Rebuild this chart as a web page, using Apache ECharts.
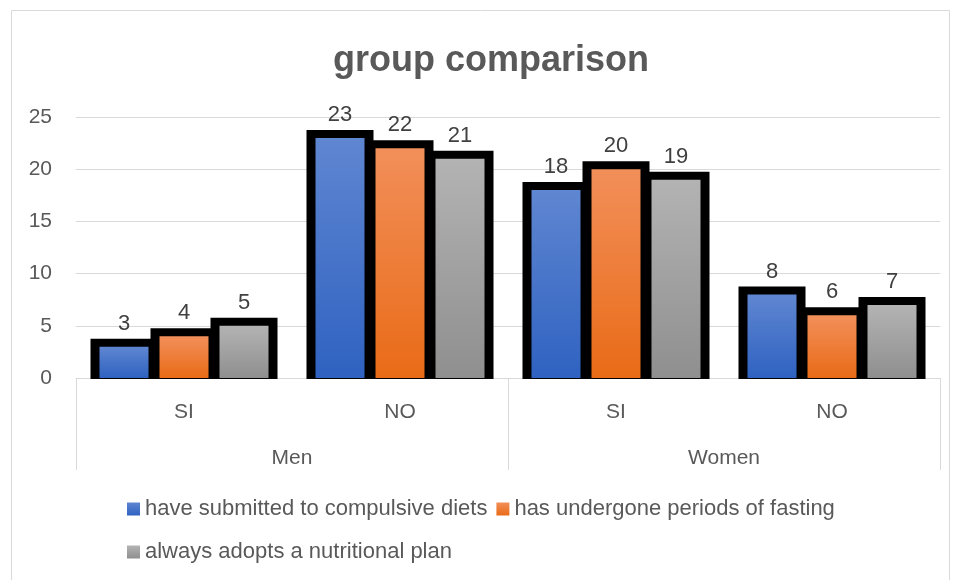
<!DOCTYPE html>
<html>
<head>
<meta charset="utf-8">
<script src="https://cdn.jsdelivr.net/npm/echarts@6/dist/echarts.min.js"></script>
<style>
  html, body { margin: 0; padding: 0; background: #fff; }
  #chart { width: 956px; height: 580px; }
</style>
</head>
<body>
<div id="chart"></div>
<script>
// 数据
const categories = ['SI', 'NO', 'SI', 'NO']
const groups = ['Men', 'Women']
const seriesNames = [
  'have submitted to compulsive diets',
  'has undergone periods of fasting',
  'always adopts a nutritional plan'
]
const diets = [3, 23, 18, 8]
const fasting = [4, 22, 20, 6]
const plan = [5, 21, 19, 7]
const yTicks = [0, 5, 10, 15, 20, 25]

const FONT = 'Liberation Sans'
const TEXT_COLOR = '#595959'

// 渐变色
function grad (top, bottom) {
  return new echarts.graphic.LinearGradient(0, 0, 0, 1, [
    { offset: 0, color: top },
    { offset: 1, color: bottom }
  ])
}
const fills = [
  grad('#5f86d1', '#2f62c1'),
  grad('#f28f5a', '#e96b17'),
  grad('#b3b3b3', '#8f8f8f')
]

// 带黑色粗边框的分组柱子
function makeRender (idx) {
  return function (params, api) {
    const cat = api.value(0)
    const val = api.value(1)
    const base = api.coord([cat, 0])
    const top = api.coord([cat, val])
    const band = api.size([1, 0])[0]
    const pitch = band * 60 / 216
    const fillW = band * 49 / 216
    const pad = 9
    const cx = base[0] + (idx - 1) * pitch
    return {
      type: 'group',
      children: [
        {
          type: 'rect',
          shape: { x: cx - fillW / 2 - pad, y: top[1] - 8, width: fillW + pad * 2, height: base[1] - top[1] + 9 },
          style: { fill: '#000' }
        },
        {
          type: 'rect',
          shape: { x: cx - fillW / 2, y: top[1], width: fillW, height: base[1] - top[1] },
          style: { fill: fills[idx] }
        },
        {
          type: 'text',
          style: {
            text: String(val),
            x: cx,
            y: top[1] - 12,
            align: 'center',
            verticalAlign: 'bottom',
            fontFamily: FONT,
            fontSize: 22,
            fill: '#404040'
          }
        }
      ]
    }
  }
}

const allData = [diets, fasting, plan]
const series = allData.map((vals, i) => ({
  name: seriesNames[i],
  type: 'custom',
  xAxisIndex: 0,
  itemStyle: { color: fills[i] },
  renderItem: makeRender(i),
  data: vals.map((v, j) => [j, v])
}))

const chart = echarts.init(document.getElementById('chart'))
chart.setOption({
  animation: false,
  title: {
    text: 'group comparison',
    left: 486,
    textAlign: 'center',
    top: 38,
    textStyle: { fontFamily: FONT, fontSize: 36, fontWeight: 'bold', color: TEXT_COLOR }
  },
  graphic: [
    {
      type: 'rect',
      shape: { x: 11.5, y: 10.5, width: 938, height: 580 },
      style: { fill: 'none', stroke: '#d9d9d9', lineWidth: 1 },
      silent: true
    }
  ],
  legend: [
    {
      data: seriesNames.slice(0, 2),
      left: 122,
      top: 493,
      icon: 'rect',
      itemWidth: 13,
      itemHeight: 13,
      itemGap: 9,
      textStyle: { fontFamily: FONT, fontSize: 22, color: TEXT_COLOR }
    },
    {
      data: seriesNames.slice(2),
      left: 122,
      top: 536,
      icon: 'rect',
      itemWidth: 13,
      itemHeight: 13,
      textStyle: { fontFamily: FONT, fontSize: 22, color: TEXT_COLOR }
    }
  ],
  grid: { left: 76, right: 16, top: 117, bottom: 202 },
  xAxis: [
    {
      type: 'category',
      data: categories,
      position: 'bottom',
      axisLine: { show: true, lineStyle: { color: '#d9d9d9' } },
      axisTick: { show: false },
      axisLabel: { margin: 24, fontFamily: FONT, fontSize: 21, color: TEXT_COLOR }
    },
    {
      type: 'category',
      data: groups,
      position: 'bottom',
      axisLine: { show: false },
      axisTick: { show: true, length: 92, lineStyle: { color: '#d9d9d9' } },
      axisLabel: { margin: 70, fontFamily: FONT, fontSize: 21, color: TEXT_COLOR }
    }
  ],
  yAxis: {
    type: 'value',
    min: yTicks[0],
    max: yTicks[yTicks.length - 1],
    interval: 5,
    axisLine: { show: false },
    axisTick: { show: false },
    axisLabel: { margin: 24, fontFamily: FONT, fontSize: 21, color: TEXT_COLOR },
    splitLine: { lineStyle: { color: '#d9d9d9' } }
  },
  series: series
})
</script>
</body>
</html>
